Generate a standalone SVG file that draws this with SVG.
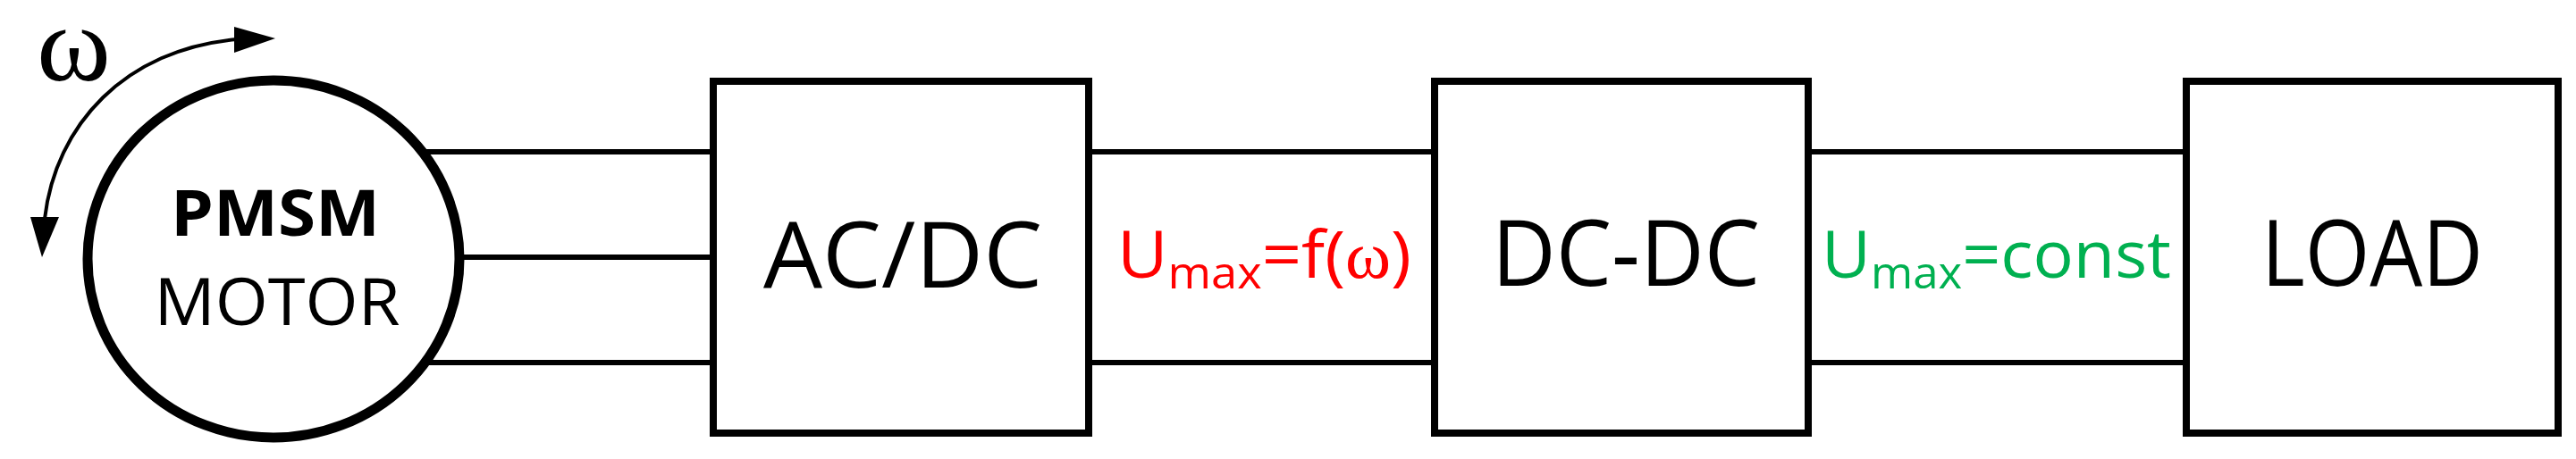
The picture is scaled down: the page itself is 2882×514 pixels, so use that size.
<svg xmlns="http://www.w3.org/2000/svg" width="2882" height="514" viewBox="0 0 2882 514">
<style>
.box{fill:#fff;stroke:#000;stroke-width:8}
.w{stroke:#000;stroke-width:6;fill:none}
.t{font-family:"Open Sans","Noto Sans",sans-serif;text-anchor:middle;fill:#000}
</style>
<rect width="2882" height="514" fill="#fff"/>
<g id="connectors">
<line class="w" x1="470" y1="170" x2="795" y2="170"/>
<line class="w" x1="515" y1="288" x2="795" y2="288"/>
<line class="w" x1="470" y1="406" x2="795" y2="406"/>
<line class="w" x1="1220" y1="170" x2="1602" y2="170"/>
<line class="w" x1="1220" y1="406" x2="1602" y2="406"/>
<line class="w" x1="2025" y1="170" x2="2443" y2="170"/>
<line class="w" x1="2025" y1="406" x2="2443" y2="406"/>
<path d="M50 245 C62 140 140 55 265 44" stroke="#000" stroke-width="4" fill="none"/>
<polygon points="262,30 308,43 262,59" fill="#000"/>
<polygon points="34,243 66,243 47,288" fill="#000"/>
</g>
<g id="omega"><text x="41" y="90" font-family="Liberation Serif,serif" font-size="120" textLength="83" lengthAdjust="spacingAndGlyphs">ω</text></g>
<g id="motor">
<ellipse cx="306" cy="290" rx="208" ry="200" fill="#fff" stroke="#000" stroke-width="11"/>
<text class="t" x="308" y="264" font-size="72" font-weight="bold" textLength="234" lengthAdjust="spacingAndGlyphs">PMSM</text>
<text class="t" x="310" y="364" font-size="74" textLength="275" lengthAdjust="spacingAndGlyphs">MOTOR</text>
</g>
<g id="acdc">
<rect class="box" x="798" y="91" width="420" height="394"/>
<text class="t" x="1010" y="322" font-size="102" textLength="312" lengthAdjust="spacingAndGlyphs">AC/DC</text>
</g>
<g id="label1"><text x="1250" y="311" font-family="Open Sans,Noto Sans,sans-serif" font-size="74" fill="#ff0000" textLength="329" lengthAdjust="spacingAndGlyphs">U<tspan font-size="50" dy="12">max</tspan><tspan dy="-12">=f(</tspan><tspan font-family="Liberation Serif,serif">ω</tspan>)</text></g>
<g id="dcdc">
<rect class="box" x="1605" y="91" width="418" height="394"/>
<text class="t" x="1819" y="320" font-size="102" textLength="300" lengthAdjust="spacingAndGlyphs">DC-DC</text>
</g>
<g id="label2"><text x="2038" y="311" font-family="Open Sans,Noto Sans,sans-serif" font-size="74" fill="#00b050" textLength="391" lengthAdjust="spacingAndGlyphs">U<tspan font-size="50" dy="12">max</tspan><tspan dy="-12">=const</tspan></text></g>
<g id="load">
<rect class="box" x="2446" y="91" width="416" height="394"/>
<text class="t" x="2654" y="320" font-size="102" textLength="248" lengthAdjust="spacingAndGlyphs">LOAD</text>
</g>
</svg>
